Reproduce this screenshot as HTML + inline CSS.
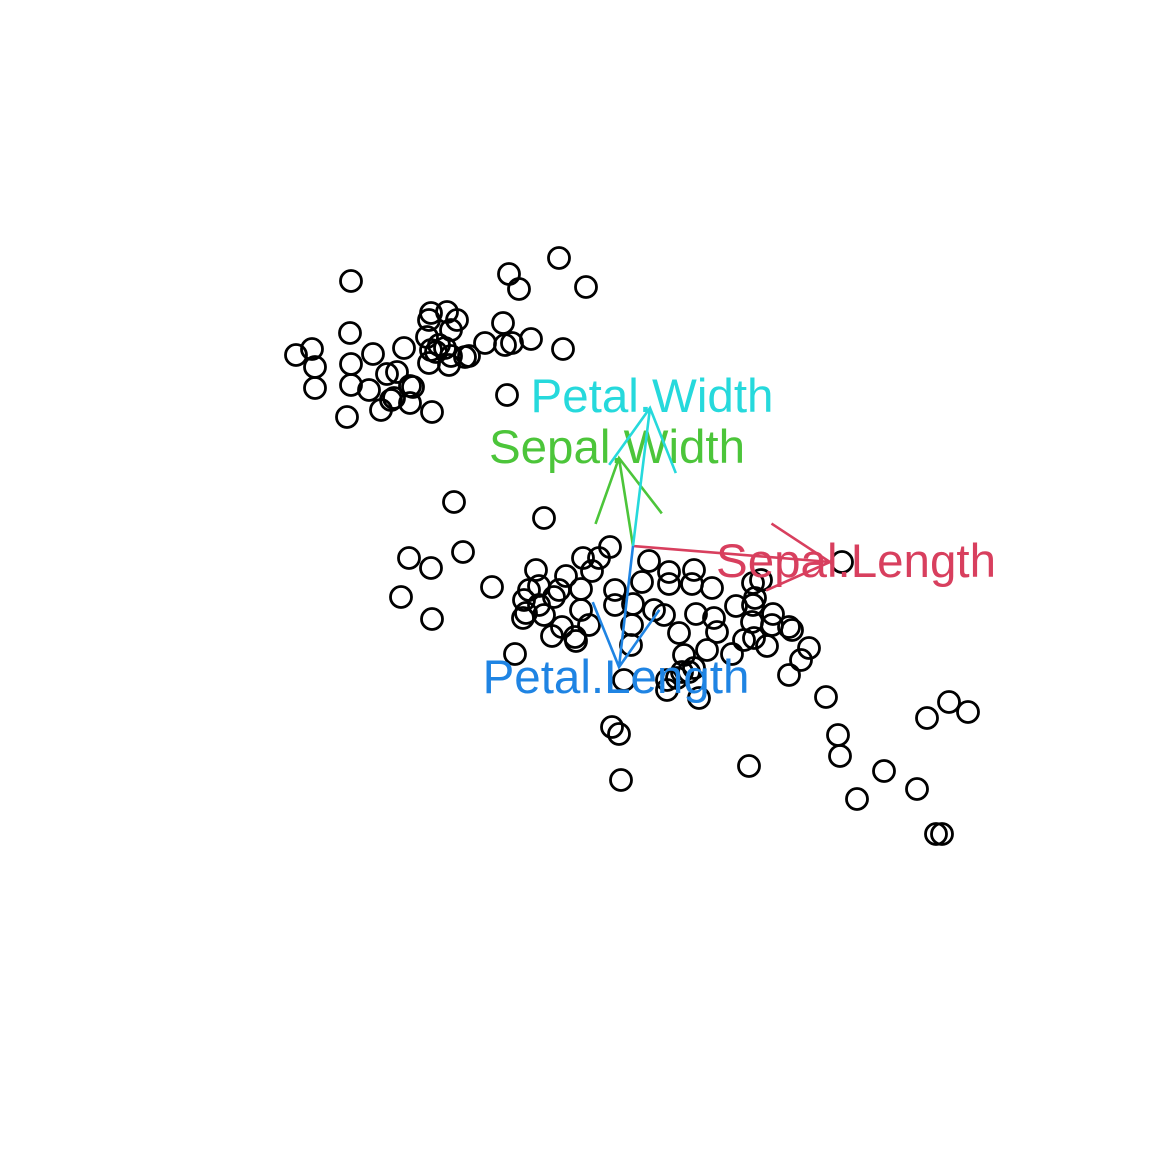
<!DOCTYPE html>
<html><head><meta charset="utf-8"><style>html,body{margin:0;padding:0;background:#fff}svg{display:block}</style></head>
<body>
<svg id="chart" width="1152" height="1152" viewBox="0 0 1152 1152" xmlns="http://www.w3.org/2000/svg">
<rect width="1152" height="1152" fill="#fff"/>
<g id="points"></g>
<g id="arrows"></g>
</svg>
<script>
// scores (component 1, component 2)
const scoreX = [-2.82,-1.24,-1.14,-0.74,-0.47,-3.37,-3.21,-3.18,-3.18,-2.83,-2.82,-2.82,-2.86,-2.6,-2.64,-2.52,-2.46,-2.36,-2.42,-2.39,-2.23,-2.2,-2.23,-2.01,-2.29,-2.02,-1.86,-1.76,-2.04,-1.82,-2.06,-2.02,-1.94,-1.88,-1.97,-1.82,-2.04,-1.84,-1.68,-1.64,-1.48,-1.3,-1.28,-1.21,-1.02,-0.7,-1.26,
-1.79,-0.89,-2.24,-2.02,-1.7,-2.32,-2.01,-1.41,-0.97,-1.04,-0.94,-1.09,-1.07,-1.1,-0.94,-0.89,-0.79,-0.74,-0.67,-0.5,-0.34,-0.23,-0.41,-0.52,-0.52,-0.81,-0.71,-0.58,-0.57,-0.44,-0.18,-0.18,0.0,-0.01,-0.02,-1.18,0.16,0.09,0.36,0.36,0.61,0.59,0.79,0.21,0.31,0.63,0.46,0.81,0.84,1.03,1.2,1.28,1.22,1.2,1.19,1.11,1.21,0.99,1.34,1.39,1.56,1.59,1.76,1.56,1.4,2.09,1.68,0.74,0.51,0.61,0.49,0.56,0.66,0.34,0.34,0.44,-0.09,-0.21,-0.14,-0.12,1.16,1.93,2.05,2.07,2.24,2.51,2.84,2.94,3.16,3.35,3.03,3.09];
const scoreY = [2.65,2.72,2.57,2.88,2.59,1.91,1.97,1.79,1.58,2.13,1.82,1.61,1.29,1.92,1.56,1.36,1.72,1.74,1.46,1.48,1.6,1.59,1.43,1.34,1.98,2.33,2.34,2.26,2.26,2.16,2.09,1.96,2.01,1.98,1.94,1.9,1.83,1.81,1.89,1.9,2.03,2.23,2.01,2.03,2.07,1.97,1.51,
0.44,0.28,-0.12,-0.22,-0.06,-0.51,-0.73,-0.41,-0.24,-0.44,-0.4,-0.54,-0.67,-0.72,-0.59,-0.69,-0.51,-0.44,-0.3,-0.12,-0.12,-0.01,-0.25,-0.43,-0.64,-0.9,-0.81,-0.91,-0.95,-0.79,-0.44,-0.59,-0.58,-0.79,-0.99,-1.08,-0.15,-0.36,-0.26,-0.38,-0.24,-0.38,-0.42,-0.64,-0.69,-0.68,-0.87,-0.72,-0.86,-0.6,-0.37,-0.34,-0.52,-0.59,-0.76,-0.94,-0.92,-1.08,-1.0,-0.79,-0.81,-0.84,-1.02,-1.29,-0.68,-0.16,-1.14,-1.04,-1.09,-1.22,-1.26,-1.26,-1.52,-1.44,-1.34,-1.32,-1.34,-1.81,-1.88,-2.34,-2.2,-1.51,-1.89,-2.1,-2.53,-2.25,-2.43,-1.72,-1.56,-1.66,-2.88,-2.88];
// loadings
const varNames = ["Sepal.Length","Sepal.Width","Petal.Length","Petal.Width"];
const loadX = [1.97,-0.14,-0.14,0.17];
const loadY = [-0.16,0.88,-1.21,1.38];
const varColors = ["#D83F5E","#4CC53A","#1F84E3","#26D9DC"];

const ox = 633, oy = 546, scale = 100;
const xs = v => ox + v*scale;
const ys = v => oy - v*scale;
const NS = "http://www.w3.org/2000/svg";
const gp = document.getElementById('points');
for (let i=0;i<scoreX.length;i++){
  const c=document.createElementNS(NS,'circle');
  c.setAttribute('cx',xs(scoreX[i]));c.setAttribute('cy',ys(scoreY[i]));
  c.setAttribute('r',10.5);c.setAttribute('fill','none');c.setAttribute('stroke','#000');c.setAttribute('stroke-width',2.8);
  
  
  gp.appendChild(c);
}
const ga=document.getElementById('arrows');
const labOffX=[26,-2,-3,2], labOffY=[15,5,26,4];
for (let j=0;j<varNames.length;j++){
  const x1=xs(0),y1=ys(0),x2=xs(loadX[j]),y2=ys(loadY[j]);
  const ang=Math.atan2(y2-y1,x2-x1), L=70, a=0.5;
  const d=`M${x1},${y1}L${x2},${y2}M${x2-L*Math.cos(ang-a)},${y2-L*Math.sin(ang-a)}L${x2},${y2}L${x2-L*Math.cos(ang+a)},${y2-L*Math.sin(ang+a)}`;
  const p=document.createElementNS(NS,'path');
  p.setAttribute('d',d);p.setAttribute('fill','none');p.setAttribute('stroke',varColors[j]);p.setAttribute('stroke-width',2.6);
  
  
  ga.appendChild(p);
  const t=document.createElementNS(NS,'text');
  t.setAttribute('x',x2+labOffX[j]);
  t.setAttribute('y',y2+labOffY[j]);
  t.setAttribute('text-anchor','middle');
  t.setAttribute('font-family','Liberation Sans, Arial, sans-serif');
  t.setAttribute('font-size','47.5');
  t.setAttribute('fill',varColors[j]);
  t.textContent=varNames[j];
  
  
  ga.appendChild(t);
}
</script>
</body></html>
